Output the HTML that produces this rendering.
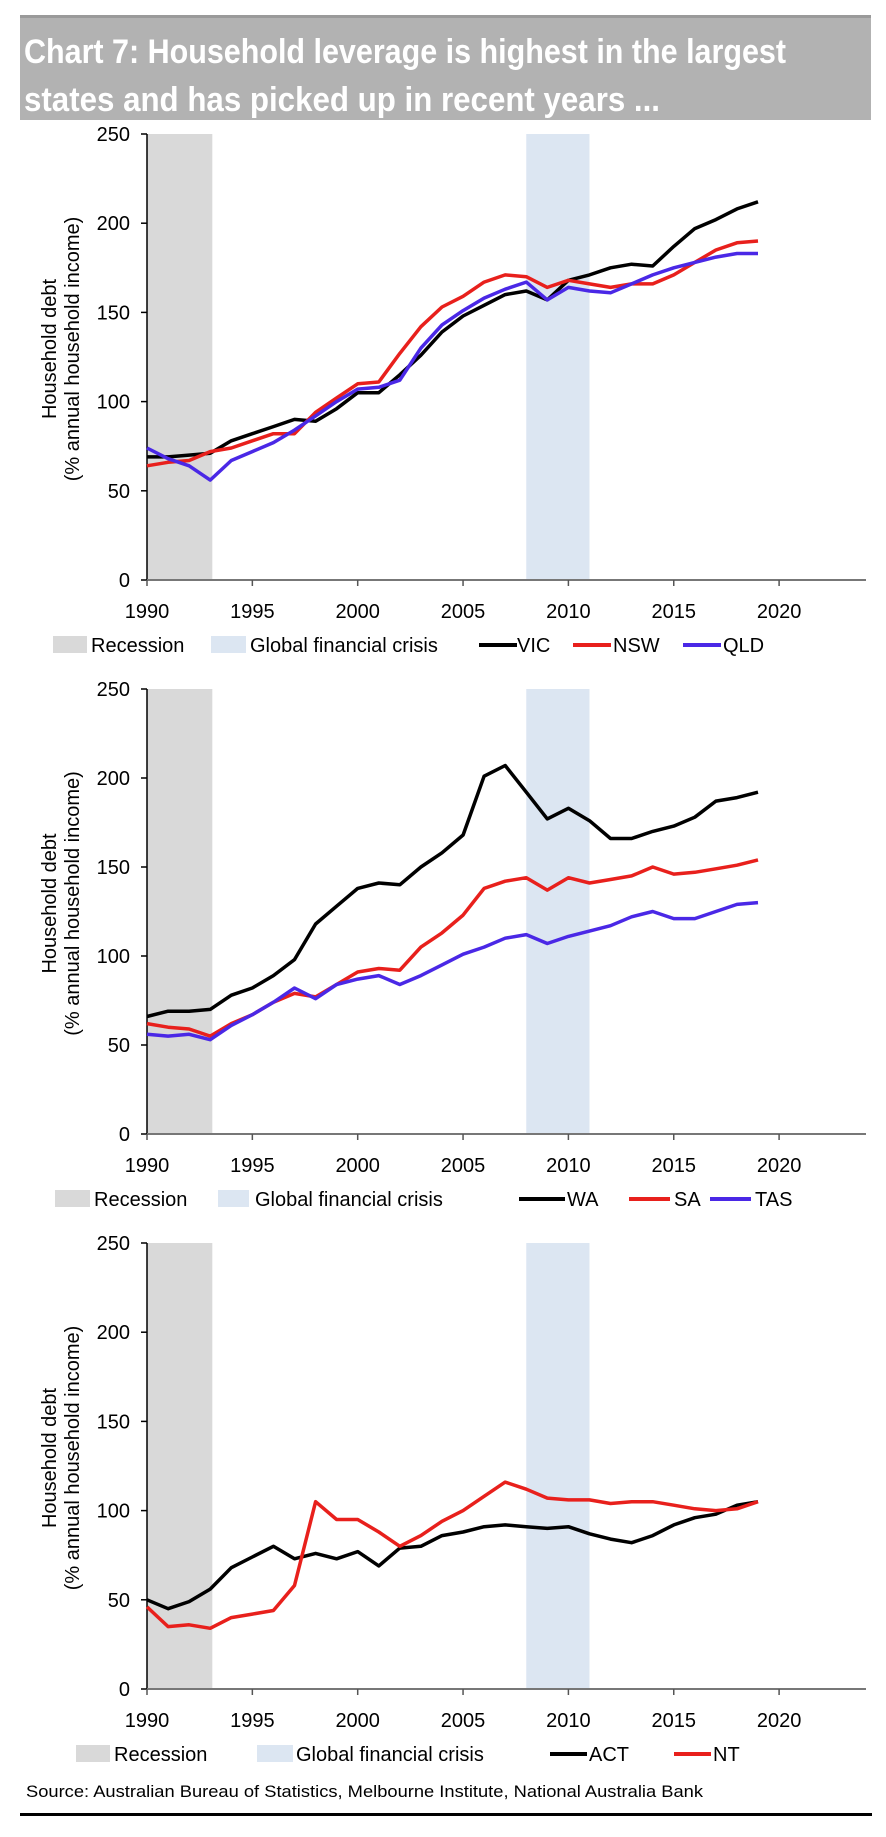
<!DOCTYPE html>
<html><head><meta charset="utf-8"><style>
html,body{margin:0;padding:0;background:#fff;}
svg{display:block;font-family:"Liberation Sans",sans-serif;}
</style></head><body>
<svg id="root" width="886" height="1837" viewBox="0 0 886 1837" xmlns="http://www.w3.org/2000/svg">
<g>
<rect x="20" y="16" width="851" height="104" fill="#b2b2b2"/>
<rect x="20" y="15" width="851" height="3" fill="#9a9a9a"/>
<text x="24" y="63" fill="#fff" font-weight="bold" font-size="34" textLength="762" lengthAdjust="spacingAndGlyphs">Chart 7: Household leverage is highest in the largest</text>
<text x="24" y="111" fill="#fff" font-weight="bold" font-size="34" textLength="636" lengthAdjust="spacingAndGlyphs">states and has picked up in recent years ...</text>
</g>
<g id="charts"></g>
<text x="26" y="1797" font-size="17" fill="#000" textLength="677" lengthAdjust="spacingAndGlyphs">Source: Australian Bureau of Statistics, Melbourne Institute, National Australia Bank</text>
<rect x="20" y="1813" width="852" height="3" fill="#000"/>
</svg>
<script>
const years = [1990,1991,1992,1993,1994,1995,1996,1997,1998,1999,2000,2001,2002,2003,2004,2005,2006,2007,2008,2009,2010,2011,2012,2013,2014,2015,2016,2017,2018,2019];
const xTicks = [1990,1995,2000,2005,2010,2015,2020];
const yTicks = [0,50,100,150,200,250];
const recession = [1990,1993.1];
const gfc = [2008,2011];
const vic = [69,69,70,71,78,82,86,90,89,96,105,105,115,126,139,148,154,160,162,157,168,171,175,177,176,187,197,202,208,212];
const nsw = [64,66,67,72,74,78,82,82,94,102,110,111,127,142,153,159,167,171,170,164,168,166,164,166,166,171,178,185,189,190];
const qld = [74,68,64,56,67,72,77,84,92,100,107,108,112,130,143,151,158,163,167,157,164,162,161,166,171,175,178,181,183,183];
const wa = [66,69,69,70,78,82,89,98,118,128,138,141,140,150,158,168,201,207,192,177,183,176,166,166,170,173,178,187,189,192];
const sa = [62,60,59,55,62,67,74,79,77,84,91,93,92,105,113,123,138,142,144,137,144,141,143,145,150,146,147,149,151,154];
const tas = [56,55,56,53,61,67,74,82,76,84,87,89,84,89,95,101,105,110,112,107,111,114,117,122,125,121,121,125,129,130];
const act = [50,45,49,56,68,74,80,73,76,73,77,69,79,80,86,88,91,92,91,90,91,87,84,82,86,92,96,98,103,105];
const nt = [46,35,36,34,40,42,44,58,105,95,95,88,80,86,94,100,108,116,112,107,106,106,104,105,105,103,101,100,101,105];

const NS="http://www.w3.org/2000/svg";
const RED="#e8201c", BLUE="#4a28e6", BLACK="#000";
function mk(tag,attrs,parent){const e=document.createElementNS(NS,tag);for(const k in attrs)e.setAttribute(k,attrs[k]);parent.appendChild(e);return e;}

const panels=[
 {top:134,bot:580,series:[["VIC",vic,BLACK],["NSW",nsw,RED],["QLD",qld,BLUE]],
  leg:{rs:[53,87],rt:91,gs:[211,246],gt:250,items:[[479,517,517],[573,611,613],[683,721,723]]}},
 {top:689,bot:1134,series:[["WA",wa,BLACK],["SA",sa,RED],["TAS",tas,BLUE]],
  leg:{rs:[55,90],rt:94,gs:[218,249],gt:255,items:[[519,565,567],[629,670,674],[710,751,755]]}},
 {top:1243,bot:1689,series:[["ACT",act,BLACK],["NT",nt,RED]],
  leg:{rs:[76,110],rt:114,gs:[257,293],gt:296,items:[[550,587,589],[674,711,713]]}}
];
const X0=147, PX_PER_YEAR=21.07, XR=866;
function xs(y){return X0+(y-1990)*PX_PER_YEAR;}
const root=document.getElementById('charts');
panels.forEach((p,pi)=>{
 const ys=v=>p.bot-(v/250)*(p.bot-p.top);
 const g=mk('g',{},root);
 
 
 const r1=mk('rect',{x:xs(recession[0]),y:p.top,width:xs(recession[1])-xs(recession[0]),height:p.bot-p.top,fill:'#d9d9d9'},g);
 
 
 const r2=mk('rect',{x:xs(gfc[0]),y:p.top,width:xs(gfc[1])-xs(gfc[0]),height:p.bot-p.top,fill:'#dce6f2'},g);
 
 
 const ya=mk('line',{x1:X0,y1:p.top,x2:X0,y2:p.bot,stroke:'#000','stroke-width':1.5},g);
 
 
 const xa=mk('line',{x1:X0,y1:p.bot,x2:XR,y2:p.bot,stroke:'#777','stroke-width':2},g);
 
 
 yTicks.forEach(t=>{
  const y=ys(t);
  mk('line',{x1:X0-6,y1:y,x2:X0,y2:y,stroke:'#000','stroke-width':1.5},g);
  const tx=mk('text',{x:130,y:y+7,'font-size':20,'text-anchor':'end'},g);
  tx.textContent=t;
  
  
 });
 xTicks.forEach(t=>{
  const x=xs(t);
  mk('line',{x1:x,y1:p.bot,x2:x,y2:p.bot+6,stroke:'#555','stroke-width':1.5},g);
  const tx=mk('text',{x:x,y:p.bot+38,'font-size':20,'text-anchor':'middle'},g);
  tx.textContent=t;
  
  
 });
 const cy=(p.top+p.bot)/2;
 const t1=mk('text',{x:0,y:0,'font-size':20,'text-anchor':'middle',transform:`translate(56,${cy-8}) rotate(-90)`},g);
 t1.textContent='Household debt';
 
 
 const t2=mk('text',{x:0,y:0,'font-size':20,'text-anchor':'middle',transform:`translate(79,${cy-8}) rotate(-90)`},g);
 t2.textContent='(% annual household income)';
 
 
 p.series.forEach(([name,vals,col])=>{
  const pts=vals.map((v,i)=>xs(years[i]).toFixed(1)+','+ys(v).toFixed(1)).join(' ');
  const pl=mk('polyline',{points:pts,fill:'none',stroke:col,'stroke-width':3.5,'stroke-linejoin':'round'},g);
  
  
 });
 const ly=p.bot+65;
 const L=p.leg;
 const lg=mk('g',{},g);
 
 
 const s1=mk('rect',{x:L.rs[0],y:ly-9,width:L.rs[1]-L.rs[0],height:17,fill:'#d9d9d9'},lg);
 
 
 const lt1=mk('text',{x:L.rt,y:ly+7,'font-size':20},lg);
 lt1.textContent='Recession';
 
 
 const s2=mk('rect',{x:L.gs[0],y:ly-9,width:L.gs[1]-L.gs[0],height:17,fill:'#dce6f2'},lg);
 
 
 const lt2=mk('text',{x:L.gt,y:ly+7,'font-size':20},lg);
 lt2.textContent='Global financial crisis';
 
 
 p.series.forEach(([name,vals,col],i)=>{
  const it=L.items[i];
  const ln=mk('line',{x1:it[0],y1:ly,x2:it[1],y2:ly,stroke:col,'stroke-width':4},lg);
  
  
  const lt=mk('text',{x:it[2],y:ly+7,'font-size':20},lg);
  lt.textContent=name;
  
  
 });
});
</script>
</body></html>
